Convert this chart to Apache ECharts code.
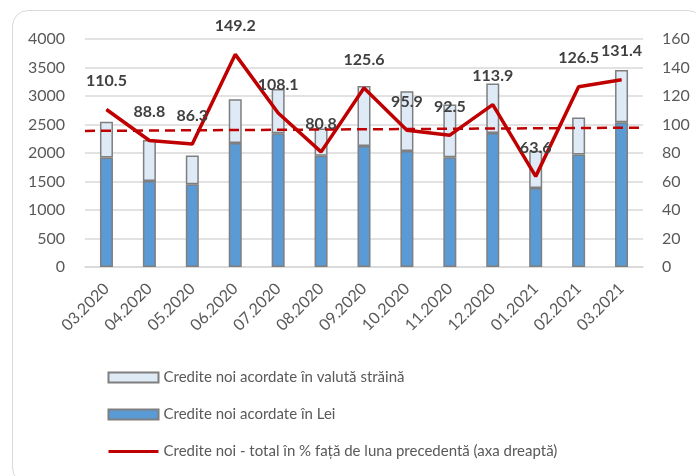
<!DOCTYPE html>
<html>
<head>
<meta charset="utf-8">
<script src="https://cdn.jsdelivr.net/npm/echarts@6/dist/echarts.min.js"></script>
<style>
    html, body { margin: 0; padding: 0; background: #fff; }
    #chart { width: 696px; height: 476px; }
    #frame {
        position: absolute; left: 12px; top: 10px; width: 690px; height: 472px;
        border: 1.5px solid #d9d9d9; border-radius: 16px; pointer-events: none;
    }
</style>
</head>
<body>
<div id="chart"></div>
<div id="frame"></div>
<script>
// luni
var months = ['03.2020', '04.2020', '05.2020', '06.2020', '07.2020', '08.2020', '09.2020',
    '10.2020', '11.2020', '12.2020', '01.2021', '02.2021', '03.2021'];
// credite noi in lei (axa stanga)
var lei = [1920, 1510, 1450, 2175, 2345, 1950, 2125, 2035, 1925, 2350, 1385, 1975, 2540];
// credite noi in valuta straina (axa stanga)
var valuta = [630, 720, 505, 770, 780, 480, 1050, 1050, 925, 870, 655, 650, 915];
// total in % fata de luna precedenta (axa dreapta)
var totalPct = [110.5, 88.8, 86.3, 149.2, 108.1, 80.8, 125.6, 95.9, 92.5, 113.9, 63.6, 126.5, 131.4];
// linia punctata (axa dreapta), capetele
var dashLevel = [[0, 95.5], [1, 97.8]];

var names = [
    'Credite noi acordate în valută străină',
    'Credite noi acordate în Lei',
    'Credite noi - total în % față de luna precedentă (axa dreaptă)'
];

var font = 'Lato, "Open Sans", sans-serif';

function plain(v) { return String(v); }

var chart = echarts.init(document.getElementById('chart'));
chart.setOption({
    animation: false,
    textStyle: { fontFamily: font },
    grid: { left: 85, right: 53, top: 39, bottom: 209 },
    legend: {
        orient: 'vertical',
        left: 102,
        top: 365,
        itemWidth: 50,
        itemHeight: 10,
        itemGap: 22,
        textStyle: { fontSize: 15, color: '#595959', fontFamily: font },
        data: [
            { name: names[0], icon: 'rect' },
            { name: names[1], icon: 'rect' },
            { name: names[2], itemStyle: { opacity: 0 }, lineStyle: { width: 3 } }
        ]
    },
    xAxis: [{
        type: 'category',
        data: months,
        axisTick: { show: false },
        axisLine: { lineStyle: { color: '#d9d9d9', width: 1.5 } },
        axisLabel: { rotate: 45, color: '#595959', fontSize: 16, margin: 19 }
    }, {
        type: 'value',
        min: 0,
        max: 1,
        show: false
    }],
    yAxis: [{
        type: 'value',
        min: 0,
        max: 4000,
        interval: 500,
        axisLine: { show: false },
        axisTick: { show: false },
        axisLabel: { color: '#595959', fontSize: 16, margin: 20, formatter: plain },
        splitLine: { lineStyle: { color: '#d9d9d9', width: 1.5 } }
    }, {
        type: 'value',
        min: 0,
        max: 160,
        interval: 20,
        axisLine: { show: false },
        axisTick: { show: false },
        axisLabel: { color: '#595959', fontSize: 16, margin: 19, formatter: plain },
        splitLine: { show: false }
    }],
    series: [{
        name: names[1],
        type: 'bar',
        stack: 'credite',
        barWidth: 13,
        data: lei,
        itemStyle: { color: '#5b9bd5', borderColor: '#7f7f7f', borderWidth: 1.5 }
    }, {
        name: names[0],
        type: 'bar',
        stack: 'credite',
        barWidth: 13,
        data: valuta,
        itemStyle: { color: '#deebf7', borderColor: '#7f7f7f', borderWidth: 1.5 }
    }, {
        name: 'nivel',
        type: 'line',
        xAxisIndex: 1,
        yAxisIndex: 1,
        data: dashLevel,
        symbol: 'none',
        silent: true,
        z: 3,
        lineStyle: { color: '#c00000', width: 2.5, type: [10, 6] }
    }, {
        name: names[2],
        type: 'line',
        yAxisIndex: 1,
        data: totalPct,
        symbol: 'circle',
        symbolSize: 1,
        z: 4,
        lineStyle: { color: '#c00000', width: 3.5 },
        itemStyle: { color: '#c00000' },
        label: {
            show: true,
            position: 'top',
            distance: 20,
            color: '#404040',
            fontSize: 16,
            fontWeight: 'bold',
            fontFamily: font
        }
    }]
});
</script>
</body>
</html>
